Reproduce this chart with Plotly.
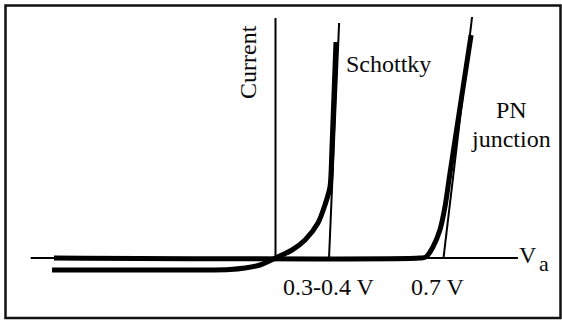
import plotly.graph_objects as go

# Schematic I-V characteristics: applied voltage (V) vs. current (arbitrary units)

# Schottky diode: thick characteristic curve
schottky_v = [-0.931, -0.315, -0.190, -0.127, -0.065, 0.0, 0.069, 0.123, 0.177, 0.206, 0.227, 0.235, 0.252]
schottky_i = [-1.2, -1.2, -1.15, -1.0, -0.7, 0.0, 0.8, 1.8, 3.5, 5.3, 7.1, 10.8, 21.6]

# Schottky diode: extrapolated tangent to the voltage axis
schottky_tan_v = [0.223, 0.265]
schottky_tan_i = [0.0, 23.5]

# PN junction diode: thick characteristic curve
pn_v = [-0.923, 0.602, 0.627, 0.656, 0.685, 0.706, 0.727, 0.815]
pn_i = [0.0, 0.0, 0.1, 1.1, 2.8, 5.1, 8.5, 22.3]

# PN junction diode: extrapolated tangent (turn-on voltage 0.7 V)
pn_tan_v = [0.70, 0.819]
pn_tan_i = [0.0, 24.1]

# Axes drawn inside the figure
va_axis_v = [-1.02, 1.01]
va_axis_i = [0.0, 0.0]
current_axis_v = [0.0, 0.0]
current_axis_i = [0.0, 24.0]

# Text labels
label_text = ["Current", "Schottky", "PN", "junction", "0.3-0.4 V", "0.7 V", "V", "a"]
label_v = [-0.115, 0.285, 0.985, 0.982, 0.221, 0.679, 1.054, 1.118]
label_i = [19.6, 19.4, 14.8, 11.9, -2.9, -2.9, 0.3, -0.5]
label_size = [24, 24, 24, 24, 24, 24, 24, 22]

FONT = "Liberation Serif, Times New Roman, serif"
INK = "#0a0a0a"

fig = go.Figure()

def add_line(xs, ys, width, shape="linear"):
    fig.add_trace(go.Scatter(
        x=xs, y=ys, mode="lines",
        line=dict(color="black", width=width, shape=shape, smoothing=0.8),
        hoverinfo="skip", showlegend=False,
    ))

add_line(va_axis_v, va_axis_i, 2)
add_line(current_axis_v, current_axis_i, 2)
add_line(schottky_tan_v, schottky_tan_i, 2)
add_line(pn_tan_v, pn_tan_i, 2)
add_line(schottky_v, schottky_i, 5, "spline")
add_line(pn_v, pn_i, 5, "spline")

for txt, v, i, sz in zip(label_text, label_v, label_i, label_size):
    ann = dict(x=v, y=i, text=txt, showarrow=False,
               font=dict(family=FONT, size=sz, color=INK),
               xanchor="center", yanchor="middle")
    if txt == "Current":
        ann["textangle"] = -90
    if txt == "Schottky":
        ann["xanchor"] = "left"
    fig.add_annotation(**ann)

# outer frame
fig.add_shape(type="rect", xref="paper", yref="paper",
              x0=5.5 / 562, x1=560.5 / 562, y0=1 - 318 / 321, y1=1 - 5.5 / 321,
              line=dict(color="#111111", width=2.5))

fig.update_layout(
    width=562, height=321,
    margin=dict(l=0, r=0, t=0, b=0),
    paper_bgcolor="white", plot_bgcolor="white",
    xaxis=dict(range=[-275.5 / 240, (562 - 275.5) / 240], visible=False, fixedrange=True),
    yaxis=dict(range=[(258 - 321) / 10, 258 / 10], visible=False, fixedrange=True),
)

fig.write_html("out.html")
